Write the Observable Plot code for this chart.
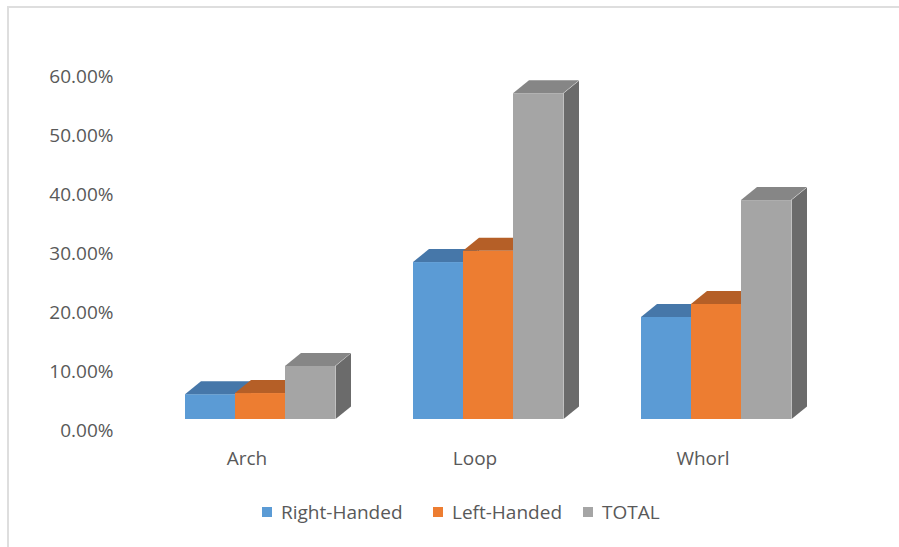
<!DOCTYPE html>
<html>
<head>
<meta charset="utf-8">
<script src="https://cdn.jsdelivr.net/npm/d3@7"></script>
<script src="https://cdn.jsdelivr.net/npm/@observablehq/plot@0.6"></script>
<style>
  body { margin: 0; background: #fff; }
  #wrap { position: relative; width: 899px; height: 547px; overflow: hidden; font-family: "Open Sans", sans-serif; color: #595959; }
  .bt { position: absolute; left: 8px; top: 6px; right: 0; height: 2px; background: #dedede; }
  .bl { position: absolute; left: 7px; top: 6px; bottom: 0; width: 2px; background: #dedede; }
  #chart { position: absolute; left: 0; top: 0; }
  .lg { position: absolute; top: 500px; display: flex; align-items: center; font-size: 19px; line-height: 24px; white-space: nowrap; }
  .lg span.sw { display: inline-block; width: 10px; height: 10px; margin-right: 9px; }
</style>
</head>
<body>
<div id="wrap">
  <div class="bt"></div>
  <div class="bl"></div>
  <div id="chart"></div>
  <div id="legend"></div>
</div>
<script>
// ---- data ----
const categories = ["Arch", "Loop", "Whorl"];
const seriesNames = ["Right-Handed", "Left-Handed", "TOTAL"];
const rightHanded = [4.2, 26.6, 17.3];
const leftHanded = [4.4, 28.5, 19.5];
const total = [9.0, 55.2, 37.1];
const yTicks = [0, 10, 20, 30, 40, 50, 60];

// ---- styles ----
const frontColors = ["#5b9bd5", "#ed7d31", "#a5a5a5"];
const topColors = ["#4677a9", "#b55f27", "#868686"];
const sideColors = ["#3d6a98", "#a4561f", "#6b6b6b"];
const legendLeft = [262, 433, 583];

const W = 899, H = 490, ML = 183, MR = 107, MT = 65, MB = 71;
const padInner = 77 / 229;
const fxBand = (W - ML - MR) / (categories.length - padInner) * (1 - padInner);
const barW = fxBand / seriesNames.length;
const depthX = 16, depthY = 13;

const seriesValues = [rightHanded, leftHanded, total];
const data = [];
categories.forEach((c, i) => {
  seriesNames.forEach((s, k) => data.push({cat: c, series: s, value: seriesValues[k][i]}));
});

const marks = [];
seriesNames.forEach((s, k) => {
  const f = d => d.series === s;
  marks.push(Plot.barY(data, {filter: f, fx: "cat", x: "series", y1: 0, y2: "value", fill: frontColors[k]}));
  marks.push(Plot.barY(data, {filter: f, fx: "cat", x: "series", y1: 0, y2: "value", fill: sideColors[k], insetLeft: barW, insetRight: -depthX}));
  marks.push(Plot.barY(data, {filter: f, fx: "cat", x: "series", y1: "value", y2: "value", fill: topColors[k], insetTop: -depthY}));
});

marks.push(Plot.axisY({ticks: yTicks, tickSize: 0, tickPadding: 71, dy: 11, label: null, tickFormat: d => d.toFixed(2) + "%"}));
marks.push(Plot.axisFx({anchor: "bottom", tickSize: 0, tickPadding: 32, dx: -13, label: null}));

const chart = Plot.plot({
  width: W, height: H,
  marginLeft: ML, marginRight: MR, marginTop: MT, marginBottom: MB,
  style: {fontFamily: "'Open Sans', sans-serif", fontSize: "19px", color: "#595959", background: "transparent", overflow: "visible"},
  fx: {domain: categories, paddingInner: padInner, paddingOuter: 0, label: null},
  x: {domain: seriesNames, padding: 0, axis: null},
  y: {domain: [0, 60], axis: null},
  marks
});
document.getElementById("chart").appendChild(chart);

// skew the top and side faces into parallelograms (3-D look)
const norm = c => d3.color(c).formatHex();
const topSet = new Set(topColors.map(norm));
const sideSet = new Set(sideColors.map(norm));
d3.select(chart).selectAll("g[fill]").each(function () {
  const fill = this.getAttribute("fill");
  let kind = null;
  try { const h = norm(fill); if (topSet.has(h)) kind = "top"; else if (sideSet.has(h)) kind = "side"; } catch (e) {}
  if (!kind) return;
  d3.select(this).selectAll("rect").each(function () {
    const x = +this.getAttribute("x"), y = +this.getAttribute("y");
    const h = +this.getAttribute("height");
    const prev = this.getAttribute("transform") || "";
    const yb = y + h;
    if (kind === "top") {
      const k = -depthX / depthY;
      this.setAttribute("transform", `${prev} matrix(1,0,${k},1,${-k * yb},0)`);
    } else {
      const k = -depthY / depthX;
      this.setAttribute("transform", `${prev} matrix(1,${k},0,1,0,${-k * x})`);
    }
  });
});

const lg = document.getElementById("legend");
seriesNames.forEach((s, k) => {
  const it = document.createElement("div");
  it.className = "lg";
  it.style.left = legendLeft[k] + "px";
  it.innerHTML = `<span class="sw" style="background:${frontColors[k]}"></span><span>${s}</span>`;
  lg.appendChild(it);
});
</script>
</body>
</html>
